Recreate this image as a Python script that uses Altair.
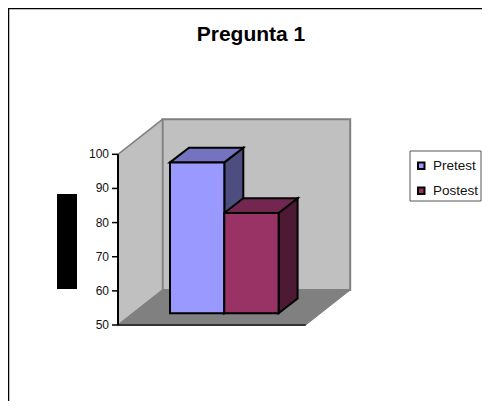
import altair as alt
import pandas as pd

FONT = "Liberation Sans"
categories = ["Pretest", "Postest"]
values = [94.2, 79.4]
front_colors = ["#9999FF", "#993366"]
top_colors = ["#7373BF", "#732650"]
side_colors = ["#4D4D80", "#4D1933"]
tick_values = [50, 60, 70, 80, 90, 100]

# Oblique projection of the 3-D box (horizontal layout units and value units)
Y_MIN, Y_MAX = 50, 100
WALL_X0, WALL_X1 = 118, 305.7
WALL_DX, WALL_DV = 44.5, 10.25
BAR_X0, BAR_W = 170, 54.3
BAR_DX, BAR_DV = 19, 4.3
BAR_BASE = 53.43
TICK_LEN = 6

RIGHT = 482
PLOT_W = RIGHT - WALL_X0


def px(page_x):
    """Page pixel to plot-group pixel (the group starts at the value axis)."""
    return page_x - WALL_X0


xs = alt.Scale(domain=[WALL_X0, RIGHT], range=[0, PLOT_W], nice=False, zero=False)
ys = alt.Scale(domain=[Y_MIN, Y_MAX], range=[325, 154.3], nice=False, zero=False)


def X(f="x"):
    return alt.X(f"{f}:Q", scale=xs, axis=None)


def Y(f="y"):
    return alt.Y(f"{f}:Q", scale=ys, axis=None, title=None)


def flat_face(x0, x1, v, dx, dv):
    """Horizontal parallelogram (top of a bar, floor)."""
    return pd.DataFrame({
        "x": [x0, x0 + dx, x1, x1 + dx],
        "y": [v, v + dv, v + dv, v + dv],
        "y2": [v, v, v, v + dv],
    })


def upright_face(x, dx, v0, v1, dv):
    """Upright parallelogram receding in depth (side of a bar, left wall)."""
    return pd.DataFrame({"x": [x, x + dx], "y": [v1, v1 + dv], "y2": [v0, v0 + dv]})


def area(df, fill, stroke, sw):
    return alt.Chart(df).mark_area(
        fill=fill, stroke=stroke, strokeWidth=sw, orient="vertical", opacity=1
    ).encode(x=X(), y=Y(), y2=alt.Y2("y2:Q"))


one = pd.DataFrame({"a": [0]})

# Walls and floor
back_wall = area(
    pd.DataFrame({
        "x": [WALL_X0 + WALL_DX, WALL_X1 + WALL_DX],
        "y": [Y_MAX + WALL_DV] * 2,
        "y2": [Y_MIN + WALL_DV] * 2,
    }),
    "#C0C0C0", "#808080", 2,
)
left_wall = area(upright_face(WALL_X0, WALL_DX, Y_MIN, Y_MAX, WALL_DV), "#C0C0C0", "#808080", 1.5)
floor = area(flat_face(WALL_X0, WALL_X1, Y_MIN, WALL_DX, WALL_DV), "#808080", "#808080", 1)

layers = [back_wall, left_wall, floor]

# Bars: depth faces, then front faces
rows = []
for i, (c, v) in enumerate(zip(categories, values)):
    x0 = BAR_X0 + i * BAR_W
    x1 = x0 + BAR_W
    top = BAR_BASE + (v - Y_MIN)
    rows.append({"cat": c, "x": x0, "x2": x1, "y": top, "y2": BAR_BASE})
    layers.append(area(upright_face(x1, BAR_DX, BAR_BASE, top, BAR_DV), side_colors[i], "#000000", 2))
    layers.append(area(flat_face(x0, x1, top, BAR_DX, BAR_DV), top_colors[i], "#000000", 2))

# Floor front edge and value axis, drawn through the same scales
layers.append(alt.Chart(pd.DataFrame({"x": [WALL_X0], "x2": [WALL_X1], "y": [Y_MIN]})).mark_rule(
    color="#333333", strokeWidth=2
).encode(x=X(), x2="x2:Q", y=Y()))
layers.append(alt.Chart(pd.DataFrame({"x": [WALL_X0], "y": [Y_MIN], "y2": [Y_MAX]})).mark_rule(
    color="#000000", strokeWidth=2
).encode(x=X(), y=Y(), y2="y2:Q"))
ticks = pd.DataFrame({"y": tick_values, "x": [WALL_X0 - TICK_LEN] * 6, "x2": [WALL_X0] * 6})
layers.append(alt.Chart(ticks).mark_rule(color="#000000", strokeWidth=1.5).encode(
    x=X(), x2="x2:Q", y=Y()
))
layers.append(alt.Chart(ticks).mark_text(
    font=FONT, fontSize=12, color="#111111", align="right", baseline="middle", dx=-3
).encode(x=X(), y=Y(), text=alt.Text("y:Q", format="d")))

legend_box = alt.Chart(one).mark_rect(fill="#FFFFFF", stroke="#555555", strokeWidth=1).encode(
    x=alt.value(px(410)), x2=alt.value(px(481)), y=alt.value(151), y2=alt.value(201)
)
layers.append(legend_box)

fronts = alt.Chart(pd.DataFrame(rows)).mark_bar(stroke="#000000", strokeWidth=2).encode(
    x=X(), x2="x2:Q", y=Y(), y2="y2:Q",
    color=alt.Color(
        "cat:N",
        scale=alt.Scale(domain=categories, range=front_colors),
        legend=alt.Legend(
            title=None, orient="none", legendX=px(414.5), legendY=159, padding=0,
            symbolType="square", symbolSize=42, symbolStrokeColor="#000000",
            symbolStrokeWidth=2, labelFont=FONT, labelFontSize=13.5, labelColor="#111111",
            labelOffset=5, rowPadding=10,
        ),
    ),
)
layers.append(fronts)

# Masked axis title block from the source image, and the outer chart frame
layers.append(alt.Chart(one).mark_rect(fill="#000000").encode(
    x=alt.value(px(57)), x2=alt.value(px(77)), y=alt.value(194), y2=alt.value(289)
))
layers.append(alt.Chart(one).mark_rule(color="#000000", strokeWidth=1.5).encode(
    x=alt.value(px(8)), x2=alt.value(px(RIGHT)), y=alt.value(8.5)
))
layers.append(alt.Chart(one).mark_rule(color="#000000", strokeWidth=1.5).encode(
    x=alt.value(px(8.5)), y=alt.value(8), y2=alt.value(401)
))

chart = alt.layer(*layers).properties(
    width=PLOT_W, height=401,
    autosize=alt.AutoSizeParams(type="none"),
    padding={"left": WALL_X0 - 8, "top": -8, "right": 0, "bottom": 0},
    background="#FFFFFF",
    title=alt.TitleParams(
        "Pregunta 1", font=FONT, fontSize=21, fontWeight="bold", color="#000000",
        anchor="middle", dx=-49, dy=45, offset=0,
    ),
).configure_view(stroke=None)

chart.save("out.html", embed_options={"renderer": "svg", "actions": False})
